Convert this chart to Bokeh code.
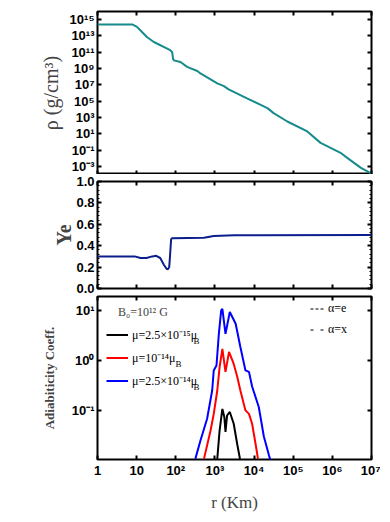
from bokeh.plotting import figure
from bokeh.models import Range1d, FixedTicker, LogAxis, LinearAxis, Legend, LegendItem, Label
from bokeh.layouts import column
from bokeh.embed import file_html
from bokeh.resources import INLINE

# ---------------- data ----------------
r_ticks = [1, 10, 100, 1e3, 1e4, 1e5, 1e6, 1e7]
r_tick_labels = ["1", "10", "10²", "10³", "10⁴", "10⁵", "10⁶", "10⁷"]

rho_r = [1, 7.9, 10, 12.6, 18.6, 27.5, 72, 81, 85, 89, 132, 195, 355, 427, 1150, 1700, 2240,
         6600, 21900, 31600, 70800, 2.29e5, 5.0e5, 1.62e6, 2.4e6, 5.25e6, 8.5e6, 1e7]
rho_val = [2.5e14, 2.5e14, 1.4e14, 4.6e13, 7e12, 1.8e12, 1.8e11, 1e11, 1.6e10, 1e10, 6.3e9, 1.6e9,
           5e8, 2.5e8, 1.5e7, 7e6, 2.8e6, 2.2e5, 1.4e4, 3.4e3, 320, 19.5, 0.76, 0.046, 0.011,
           6.9e-4, 2e-4, 1.1e-4]
rho_ticks = [1e-3, 1e-1, 1e1, 1e3, 1e5, 1e7, 1e9, 1e11, 1e13, 1e15]
rho_tick_labels = ["10⁻³", "10⁻¹", "10¹", "10³", "10⁵", "10⁷", "10⁹", "10¹¹", "10¹³", "10¹⁵"]

ye_r = [1, 8.9, 12.6, 17.8, 25, 31.6, 40, 50, 58, 63, 68, 72, 76, 80, 525, 933, 3160, 1e7]
ye_val = [0.30, 0.30, 0.285, 0.285, 0.30, 0.305, 0.285, 0.22, 0.185, 0.18, 0.20, 0.33, 0.46,
          0.47, 0.475, 0.49, 0.497, 0.50]
ye_ticks = [0.0, 0.2, 0.4, 0.6, 0.8, 1.0]
ye_tick_labels = ["0.0", "0.2", "0.4", "0.6", "0.8", "1.0"]

ad_ticks = [0.1, 1, 10]
ad_tick_labels = ["10⁻¹", "10⁰", "10¹"]

black_r = [1148, 1318, 1549, 1738, 1862, 2042, 2399, 3020, 3715, 4365]
black_val = [0.0107, 0.040, 0.107, 0.074, 0.037, 0.079, 0.093, 0.054, 0.021, 0.0107]
red_r = [525, 776, 933, 1148, 1318, 1549, 1862, 2291, 3020, 3715, 4467, 6026, 7413, 8913, 10960, 12590]
red_val = [0.0107, 0.040, 0.085, 0.25, 0.74, 1.7, 0.59, 1.48, 0.85, 0.47, 0.25, 0.10, 0.085,
           0.054, 0.021, 0.0107]
blue_r = [316, 427, 631, 851, 933, 1096, 1259, 1445, 1549, 1862, 2399, 3388, 4467, 6026, 7413,
          8913, 13180, 17780, 23990, 26300]
blue_val = [0.0107, 0.025, 0.068, 0.25, 0.63, 0.79, 3.4, 10, 10.7, 3.4, 9.3, 5.4, 1.86, 0.63,
            0.59, 0.30, 0.117, 0.030, 0.0126, 0.0100]

mu_labels = ["μ=2.5×10⁻¹⁵μ", "μ=10⁻¹⁴μ", "μ=2.5×10⁻¹⁴μ"]
b_title = "B₀=10¹² G"
alpha_labels = ["α=e", "α=x"]

SANS = "Liberation Sans"
SERIF = "Liberation Serif"


def style_axis(ax, ticks, labels=None, minor=None):
    ax.ticker = FixedTicker(ticks=ticks, minor_ticks=minor or [])
    ax.major_tick_in = 4
    ax.major_tick_out = 0
    ax.minor_tick_in = 2
    ax.minor_tick_out = 0
    ax.major_tick_line_width = 2
    ax.major_tick_line_color = "black"
    ax.minor_tick_line_color = "black"
    ax.axis_line_color = None
    if labels:
        ax.major_label_overrides = dict(zip(ticks, labels))
        ax.major_label_text_font = SANS
        ax.major_label_text_font_style = "bold"
        ax.major_label_text_font_size = "13px"
        ax.major_label_text_color = "black"
        ax.major_label_standoff = 3
    else:
        ax.major_label_overrides = {t: "" for t in ticks}
        ax.major_label_text_font_size = "1px"
        ax.major_label_standoff = 0


def make_fig(y_type, y_range, frame_h, top, bottom):
    p = figure(frame_width=274, frame_height=frame_h, x_axis_type="log", y_axis_type=y_type,
               x_range=Range1d(1, 1e7), y_range=y_range, output_backend="svg",
               toolbar_location=None, min_border_left=97, min_border_right=9,
               min_border_top=top, min_border_bottom=bottom)
    p.grid.visible = False
    p.outline_line_color = "black"
    p.outline_line_width = 2
    p.outline_line_alpha = 1
    p.background_fill_color = "white"
    p.border_fill_color = "white"
    p.add_layout(LogAxis(), "above")
    p.add_layout(LogAxis() if y_type == "log" else LinearAxis(), "right")
    return p


# ---------------- panel 1: density ----------------
p1 = make_fig("log", Range1d(1e-4, 1e16), 163, 11, 0)
p1.line(rho_r, rho_val, line_color="#178b8b", line_width=2)
style_axis(p1.below[0], r_ticks)
style_axis(p1.above[0], r_ticks)
style_axis(p1.left[0], rho_ticks, rho_tick_labels)
style_axis(p1.right[0], rho_ticks)
p1.left[0].axis_label = "ρ (g/cm³)"
p1.left[0].axis_label_text_font = SERIF
p1.left[0].axis_label_text_font_style = "normal"
p1.left[0].axis_label_text_font_size = "20px"
p1.left[0].axis_label_standoff = 5

# ---------------- panel 2: Ye ----------------
ye_minor = [round(0.04 * i, 2) for i in range(26)]
p2 = make_fig("linear", Range1d(0, 1), 107, 7, 7)
p2.line(ye_r, ye_val, line_color="#0c1e8c", line_width=2)
style_axis(p2.below[0], r_ticks)
style_axis(p2.above[0], r_ticks)
style_axis(p2.left[0], ye_ticks, ye_tick_labels, ye_minor)
style_axis(p2.right[0], ye_ticks, None, ye_minor)
p2.left[0].axis_label = "Ye"
p2.left[0].axis_label_text_font = SERIF
p2.left[0].axis_label_text_font_style = "bold"
p2.left[0].axis_label_text_font_size = "20px"
p2.left[0].axis_label_standoff = -2

# ---------------- panel 3: adiabaticity ----------------
p3 = make_fig("log", Range1d(0.0104, 19), 163, 1, 55)
rb = p3.line(black_r, black_val, line_color="black", line_width=2)
rr = p3.line(red_r, red_val, line_color="#ff0000", line_width=2)
rbl = p3.line(blue_r, blue_val, line_color="#0000ff", line_width=2)
d1 = p3.line([1e8], [100], line_color="black", line_width=1, line_dash="3 2")
d2 = p3.line([1e8], [100], line_color="black", line_width=1, line_dash="3 7")
style_axis(p3.below[0], r_ticks, r_tick_labels)
style_axis(p3.above[0], r_ticks)
style_axis(p3.left[0], ad_ticks, ad_tick_labels)
style_axis(p3.right[0], ad_ticks)
p3.left[0].axis_label = "Adiabiticity Coeff."
p3.left[0].axis_label_text_font = SERIF
p3.left[0].axis_label_text_font_style = "bold"
p3.left[0].axis_label_text_font_size = "13px"
p3.left[0].axis_label_standoff = 12
p3.below[0].axis_label = "r (Km)"
p3.below[0].axis_label_text_font = SERIF
p3.below[0].axis_label_text_font_style = "normal"
p3.below[0].axis_label_text_font_size = "17px"
p3.below[0].axis_label_standoff = 12

leg1 = Legend(items=[LegendItem(label=mu_labels[0], renderers=[rb]),
                     LegendItem(label=mu_labels[1], renderers=[rr]),
                     LegendItem(label=mu_labels[2], renderers=[rbl])],
              location="top_left", title="\u00a0\u00a0\u00a0\u00a0" + b_title)
leg2 = Legend(items=[LegendItem(label=alpha_labels[0], renderers=[d1]),
                     LegendItem(label=alpha_labels[1], renderers=[d2])],
              location=(213, 122))
for lg, gw in ((leg1, 22), (leg2, 14)):
    lg.background_fill_alpha = 0
    lg.border_line_alpha = 0
    lg.margin = 0
    lg.padding = 9 if lg is leg1 else 0
    lg.label_text_font = SERIF
    lg.label_text_font_size = "12px"
    lg.label_text_color = "black"
    lg.glyph_width = gw
    lg.glyph_height = 15
    lg.label_height = 15
    lg.spacing = 6
    lg.label_standoff = 4
leg1.title_text_font = SERIF
leg1.title_text_font_style = "normal"
leg1.title_text_font_size = "12px"
leg1.title_standoff = 6
p3.add_layout(leg1)
p3.add_layout(leg2)

for yy, xx in ((119, 96), (96, 78), (73, 96)):
    p3.add_layout(Label(x=xx, y=yy, x_units="screen", y_units="screen", text="B",
                        text_font=SERIF, text_font_size="9px", text_color="black",
                        text_baseline="alphabetic"))

layout = column(p1, p2, p3, spacing=0)
open("out.html", "w").write(file_html(layout, INLINE))
